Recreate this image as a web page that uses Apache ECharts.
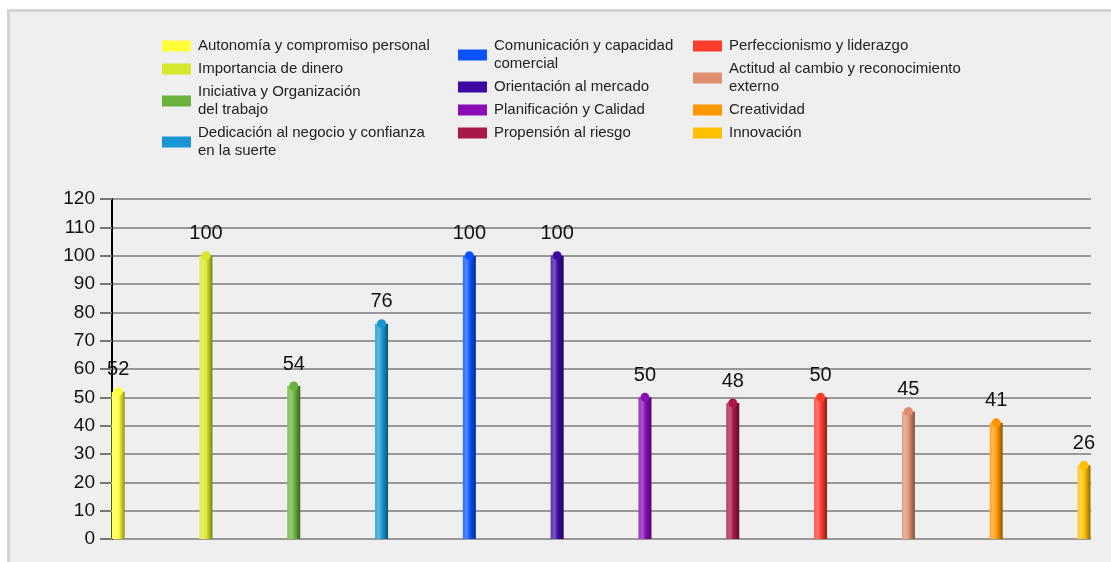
<!DOCTYPE html>
<html>
<head>
<meta charset="utf-8">
<script src="https://cdn.jsdelivr.net/npm/echarts@6/dist/echarts.min.js"></script>
<style>
  html, body { margin: 0; padding: 0; background: #fff; overflow: hidden; }
  #frame { position: absolute; left: 7px; top: 9px; width: 1120px; height: 570px;
           background: #efefef; border: 3px solid #d4d4d4; }
  #main { position: absolute; left: 0; top: 0; width: 1111px; height: 562px; }
</style>
</head>
<body>
<div id="frame"></div>
<div id="main"></div>
<script>
// Perfil de competencias: una serie por competencia, barra cilíndrica + punto arriba
const names = [
  "Autonomía y compromiso personal",
  "Importancia de dinero",
  "Iniciativa y Organización del trabajo",
  "Dedicación al negocio y confianza en la suerte",
  "Comunicación y capacidad comercial",
  "Orientación al mercado",
  "Planificación y Calidad",
  "Propensión al riesgo",
  "Perfeccionismo y liderazgo",
  "Actitud al cambio y reconocimiento externo",
  "Creatividad",
  "Innovación"
];
const values = [52, 100, 54, 76, 100, 100, 50, 48, 50, 45, 41, 26];
const colors = ["#ffff3a", "#d6e82e", "#6ab23c", "#1a96d2", "#0a52ff", "#3c0aa2",
                "#8a0cb4", "#a8184a", "#ff3b2c", "#e08f6e", "#ff9800", "#ffc000"];
const yTicks = [0, 120, 10]; // min, max, interval

// nombres partidos en dos líneas como en la leyenda original
const wrapped = {
  "Iniciativa y Organización del trabajo": "Iniciativa y Organización\ndel trabajo",
  "Dedicación al negocio y confianza en la suerte": "Dedicación al negocio y confianza\nen la suerte",
  "Comunicación y capacidad comercial": "Comunicación y capacidad\ncomercial",
  "Actitud al cambio y reconocimiento externo": "Actitud al cambio y reconocimiento\nexterno"
};

function shade(hex, f) {
  // f > 0 aclara hacia blanco, f < 0 oscurece hacia negro
  const n = parseInt(hex.slice(1), 16);
  let r = n >> 16, g = (n >> 8) & 255, b = n & 255;
  const t = f > 0 ? 255 : 0, p = Math.abs(f);
  r = Math.round(r + (t - r) * p); g = Math.round(g + (t - g) * p); b = Math.round(b + (t - b) * p);
  return "#" + ((1 << 24) + (r << 16) + (g << 8) + b).toString(16).slice(1);
}

const series = [];
names.forEach((n, i) => {
  const c = colors[i];
  series.push({
    name: n, type: "bar", barWidth: 13, barGap: "-100%", z: 2,
    data: [[i, values[i]]],
    itemStyle: {
      color: new echarts.graphic.LinearGradient(0, 0, 1, 0, [
        { offset: 0, color: shade(c, 0.15) },
        { offset: 0.3, color: shade(c, 0.3) },
        { offset: 0.55, color: c },
        { offset: 1, color: shade(c, -0.45) }
      ])
    },
    label: { show: true, position: "top", distance: 12, fontSize: 20, color: "#111",
             fontFamily: "Liberation Sans, Arial, sans-serif", formatter: p => p.value[1] }
  });
  series.push({
    name: n, type: "scatter", symbolSize: 9, z: 3, silent: true,
    data: [[i, values[i]]],
    itemStyle: { color: c, opacity: 1 }
  });
});

function legendCol(left, from, to) {
  return {
    orient: "vertical", left: left, top: 37, itemGap: 5, padding: 0,
    itemWidth: 29, itemHeight: 11, icon: "rect",
    data: names.slice(from, to).map((n, k) => ({ name: n, itemStyle: { color: colors[from + k] } })),
    formatter: n => wrapped[n] || n,
    textStyle: { fontSize: 15, lineHeight: 18, color: "#222", padding: [0, 0, 0, 2],
                 fontFamily: "Liberation Sans, Arial, sans-serif" }
  };
}

const chart = echarts.init(document.getElementById("main"));
chart.setOption({
  backgroundColor: "transparent",
  animation: false,
  legend: [legendCol(162, 0, 4), legendCol(458, 4, 8), legendCol(693, 8, 12)],
  grid: { left: 112, right: 20, top: 199, bottom: 23 },
  xAxis: { type: "value", min: -0.07, max: 11.08, show: false },
  yAxis: {
    type: "value", min: yTicks[0], max: yTicks[1], interval: yTicks[2],
    axisLine: { show: true, onZero: false, lineStyle: { color: "#000", width: 2 } },
    axisTick: { show: true, length: 12, lineStyle: { color: "#777", width: 2 } },
    axisLabel: { fontSize: 19, color: "#111", margin: 17,
                 fontFamily: "Liberation Sans, Arial, sans-serif" },
    splitLine: { lineStyle: { color: "#999", width: 2 } }
  },
  series: series
});
</script>
</body>
</html>
